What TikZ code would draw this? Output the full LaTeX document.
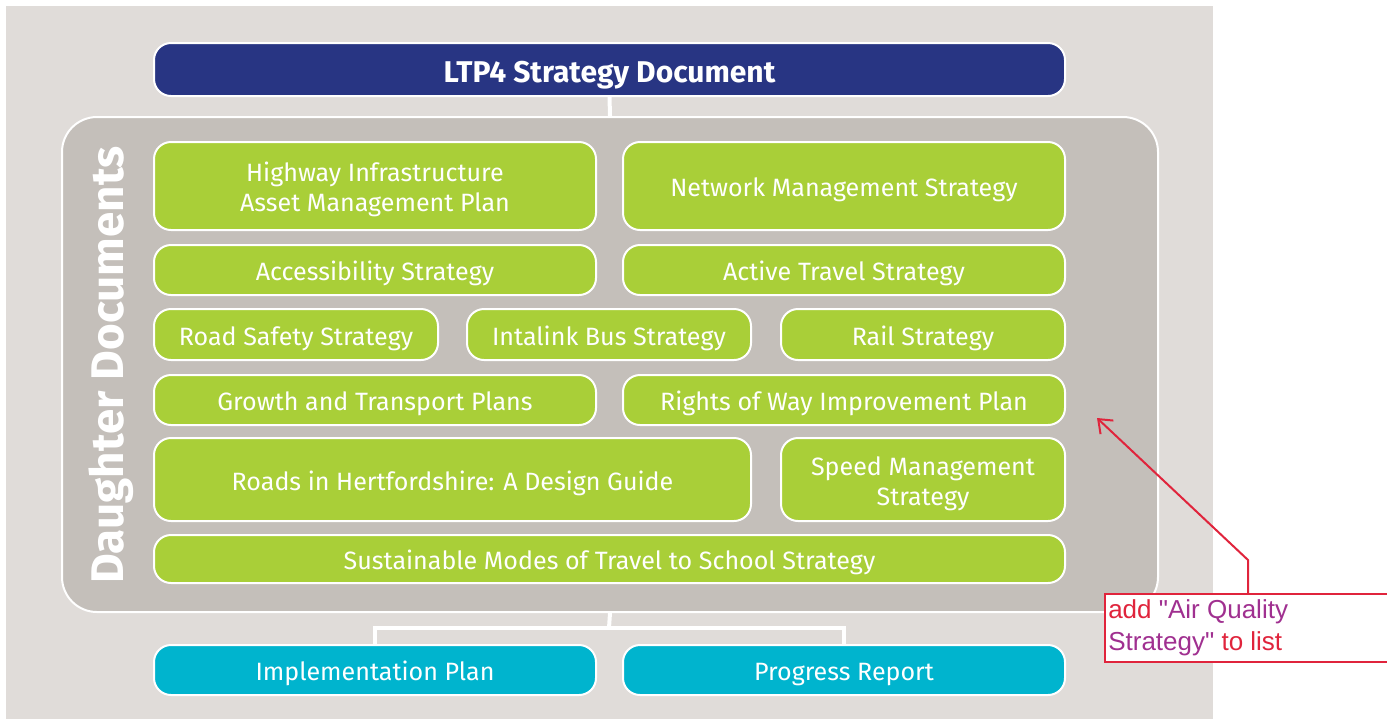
\documentclass[tikz,border=0pt]{standalone}
\usepackage{fontspec}
\setmainfont{Fira Sans}
\newfontfamily\annofont{Liberation Sans}
\usetikzlibrary{arrows.meta}
\newdimen\px \px=0.75pt
\definecolor{bgc}{HTML}{E0DCD9}
\definecolor{grayc}{HTML}{C4BFBA}
\definecolor{navyc}{HTML}{283583}
\definecolor{greenc}{HTML}{A9CF38}
\definecolor{cyanc}{HTML}{00B4CE}
\definecolor{redc}{HTML}{E0243C}
\definecolor{purplec}{HTML}{A03090}
\newcommand{\lbl}[1]{\raisebox{-3.5pt}[\height][\depth]{\begin{tabular}{@{}c@{}}#1\end{tabular}}}
\tikzset{
  box/.style={draw=white, line width=2\px, rounded corners=17\px, inner sep=0pt,
    text=white, font=\fontsize{18.8}{22.5}\selectfont\addfontfeature{Weight=300}},
  gbox/.style={box, fill=greenc},
  cbox/.style={box, fill=cyanc},
  link/.style={draw=white, line width=4\px},
}
\begin{document}
\begin{tikzpicture}[x=0.75pt,y=-0.75pt]
\useasboundingbox (0,0) rectangle (1387,719);
\fill[bgc] (6,6) rectangle (1213,719);
\node[box, fill=navyc, minimum width=911\px, minimum height=53\px,
  font=\fontsize{22.5}{26}\selectfont\bfseries] (title) at (609.5,69.5) {\raisebox{-4.5pt}[\height][\depth]{LTP4 Strategy Document}};
\node[draw=white, line width=2\px, fill=grayc, rounded corners=35\px, inner sep=0pt,
  minimum width=1096\px, minimum height=495\px] (daughter) at (610,364.5) {};
\node[rotate=90, text=white, font=\fontsize{34.3}{40}\selectfont\bfseries, inner sep=0pt] (dlabel) at (111,365) {Daughter Documents};
\draw[link] (title.south) -- (daughter.north);
% green boxes
\node[gbox, minimum width=442\px, minimum height=88\px] (hiamp) at (375,186) {\lbl{Highway Infrastructure\\Asset Management Plan}};
\node[gbox, minimum width=442\px, minimum height=88\px] (nms) at (844,186) {\lbl{Network Management Strategy}};
\node[gbox, minimum width=442\px, minimum height=50\px] (acc) at (375,270) {\lbl{Accessibility Strategy}};
\node[gbox, minimum width=442\px, minimum height=50\px] (act) at (844,270) {\lbl{Active Travel Strategy}};
\node[gbox, minimum width=284\px, minimum height=51\px] (rss) at (296,334.5) {\lbl{Road Safety Strategy}};
\node[gbox, minimum width=284\px, minimum height=51\px] (ibs) at (609,334.5) {\lbl{Intalink Bus Strategy}};
\node[gbox, minimum width=284\px, minimum height=51\px] (rail) at (923,334.5) {\lbl{Rail Strategy}};
\node[gbox, minimum width=442\px, minimum height=50\px] (gtp) at (375,400) {\lbl{Growth and Transport Plans}};
\node[gbox, minimum width=442\px, minimum height=50\px] (row) at (844,400) {\lbl{Rights of Way Improvement Plan}};
\node[gbox, minimum width=597\px, minimum height=83\px] (rih) at (452.5,479.5) {\lbl{Roads in Hertfordshire: A Design Guide}};
\node[gbox, minimum width=284\px, minimum height=83\px] (sms) at (923,479.5) {\lbl{Speed Management\\Strategy}};
\node[gbox, minimum width=911\px, minimum height=48\px] (smt) at (609.5,559) {\lbl{Sustainable Modes of Travel to School Strategy}};
% bottom
\node[cbox, minimum width=442\px, minimum height=50\px] (impl) at (375,670) {\lbl{Implementation Plan}};
\node[cbox, minimum width=442\px, minimum height=50\px] (prog) at (844,670) {\lbl{Progress Report}};
\coordinate (split) at (609,628);
\draw[link] (daughter.south) -- (split);
\draw[link] (impl.north) -- (impl.north |- split) -- (prog.north |- split) -- (prog.north);
% annotation
\node[draw=redc, line width=2\px, fill=white, inner sep=0pt, minimum width=290\px, minimum height=68\px,
  anchor=north west] (anno) at (1104,593) {};
\node[anchor=north west, align=left, inner sep=0pt, font=\annofont\fontsize{19.5}{24}\selectfont] (annotext) at (1108,599)
  {\textcolor{redc}{add} \textcolor{purplec}{"Air Quality}\\\textcolor{purplec}{Strategy"} \textcolor{redc}{to list}};
\coordinate (bend) at (1248,560);
\coordinate (tip) at (1097,418);
\draw[redc, line width=2\px, -{Straight Barb[length=9pt,width=14pt]}] (anno.north west -| bend) -- (bend) -- (tip);
\end{tikzpicture}
\end{document}
